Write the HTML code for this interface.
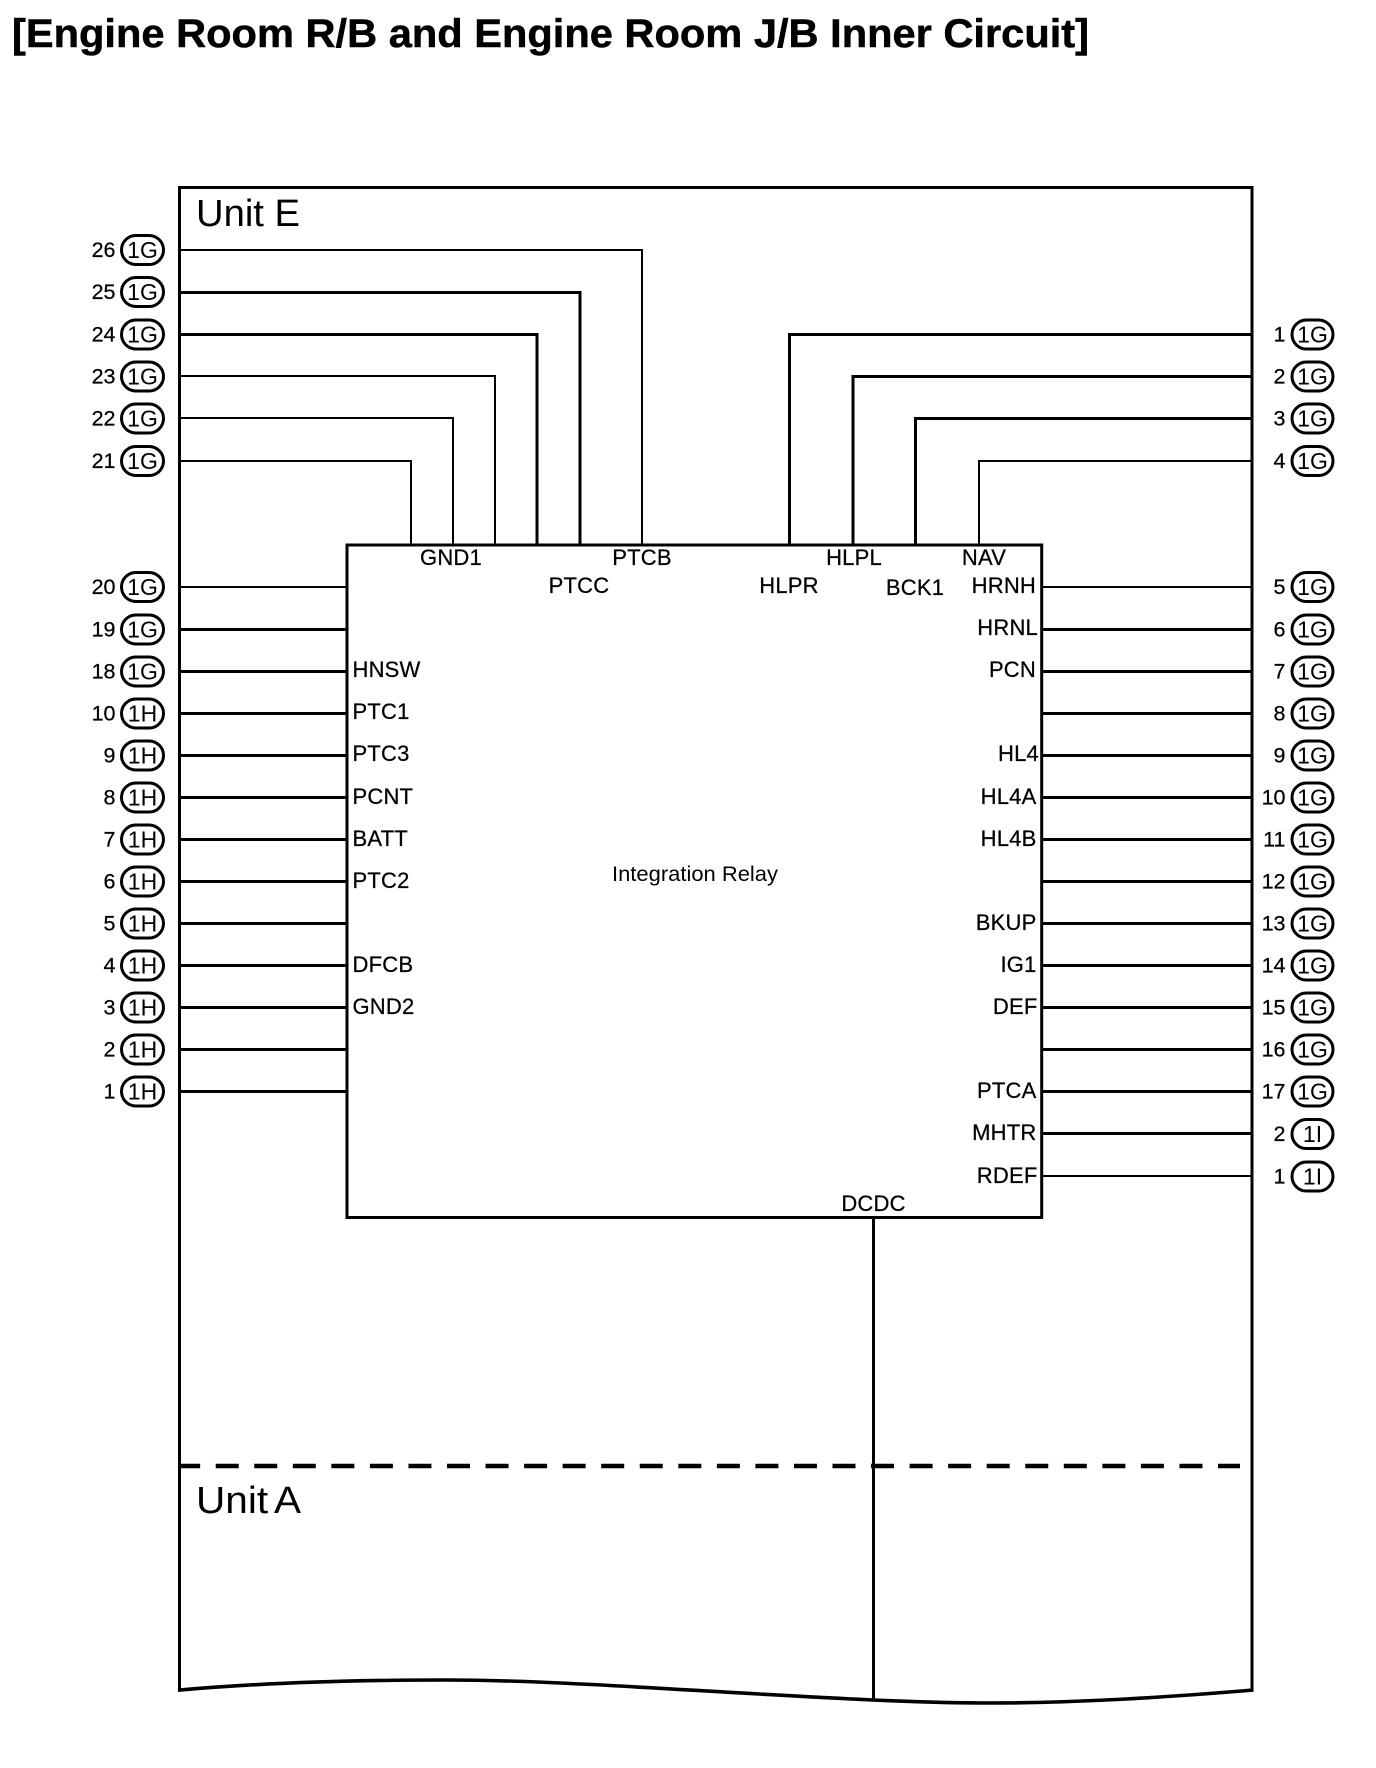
<!DOCTYPE html>
<html><head><meta charset="utf-8"><style>
html,body{margin:0;padding:0;background:#fff}
svg{display:block}
text{font-family:"Liberation Sans",Arial,sans-serif;fill:#000}
.l text,.n text{stroke:#000;stroke-width:.25}
.w{fill:none;stroke:#000;stroke-width:3}
.t{fill:none;stroke:#000;stroke-width:2}
.p{fill:#fff;stroke:#000;stroke-width:3}
</style></head><body>
<svg width="1376" height="1768" viewBox="0 0 1376 1768" xmlns="http://www.w3.org/2000/svg">
<rect width="1376" height="1768" fill="#fff"/>
<text x="12" y="47" font-size="40" font-weight="700" stroke="#000" stroke-width=".5" textLength="1077" lengthAdjust="spacingAndGlyphs">[Engine Room R/B and Engine Room J/B Inner Circuit]</text>

<path class="w" d="M179.5 1691V187.5H1252V1691"/>
<path d="M178 1690.2C270 1682 360 1680 447 1680C560 1680 700 1692 873 1700C930 1702.5 960 1703 987 1703C1080 1703 1170 1697 1253.5 1690" fill="none" stroke="#000" stroke-width="3.6"/>
<rect class="w" x="347" y="545" width="694.7" height="672.5"/>
<path d="M179 1466H1240" fill="none" stroke="#000" stroke-width="4.4" stroke-dasharray="23 15.55" stroke-dashoffset="1.85"/>
<path class="w" d="M873.5 1217V1701"/>

<g shape-rendering="crispEdges">
<path class="t" d="M180 250H642V545"/>
<path class="w" d="M180 292.5H580V545"/>
<path class="w" d="M180 334.5H537V545"/>
<path class="t" d="M180 376H495V545"/>
<path class="t" d="M180 418H453V545"/>
<path class="t" d="M180 461H411V545"/>
<path class="w" d="M1252 334.5H789.5V545"/>
<path class="w" d="M1252 376.5H853V545"/>
<path class="w" d="M1252 418.5H915.5V545"/>
<path class="t" d="M1252 461H979V545"/>
<path class="t" d="M180 587H347"/>
<path class="w" d="M180 629.5H347M180 671.5H347M180 713.5H347M180 755.5H347M180 797.5H347M180 839.5H347M180 881.5H347M180 923.5H347M180 965.5H347M180 1007.5H347M180 1049.5H347M180 1091.5H347"/>
<path class="t" d="M1042 587H1252"/>
<path class="w" d="M1042 629.5H1252M1042 671.5H1252M1042 713.5H1252M1042 755.5H1252M1042 797.5H1252M1042 839.5H1252M1042 881.5H1252M1042 923.5H1252M1042 965.5H1252M1042 1007.5H1252M1042 1049.5H1252M1042 1091.5H1252M1042 1133.5H1252"/>
<path class="t" d="M1042 1176H1252"/>
</g>

<text x="196" y="226" font-size="38" textLength="104" lengthAdjust="spacingAndGlyphs">Unit E</text>
<text x="196" y="1513" font-size="38" textLength="105" lengthAdjust="spacingAndGlyphs" word-spacing="-3">Unit A</text>
<text x="695" y="881" font-size="21" text-anchor="middle" textLength="166" lengthAdjust="spacingAndGlyphs">Integration Relay</text>

<g class="l" font-size="22" letter-spacing=".2">
<g text-anchor="middle">
<text x="451" y="565">GND1</text>
<text x="642" y="565">PTCB</text>
<text x="854" y="565">HLPL</text>
<text x="984" y="565">NAV</text>
<text x="579" y="593">PTCC</text>
<text x="789" y="593">HLPR</text>
<text x="915" y="595">BCK1</text>
<text x="873.5" y="1211">DCDC</text>
</g>
<g>
<text x="352.5" y="677">HNSW</text>
<text x="352.5" y="719">PTC1</text>
<text x="352.5" y="761">PTC3</text>
<text x="352.5" y="804">PCNT</text>
<text x="352.5" y="846">BATT</text>
<text x="352.5" y="888">PTC2</text>
<text x="352.5" y="972">DFCB</text>
<text x="352.5" y="1014">GND2</text>
</g>
<g text-anchor="end">
<text x="1036" y="593">HRNH</text>
<text x="1038" y="635">HRNL</text>
<text x="1036" y="677">PCN</text>
<text x="1039" y="761">HL4</text>
<text x="1036.5" y="804">HL4A</text>
<text x="1036.5" y="846">HL4B</text>
<text x="1036.5" y="930">BKUP</text>
<text x="1036.5" y="972">IG1</text>
<text x="1037.5" y="1014">DEF</text>
<text x="1036.5" y="1098">PTCA</text>
<text x="1036.5" y="1140">MHTR</text>
<text x="1037.5" y="1183">RDEF</text>
</g>
</g>

<g>
<rect class="p" x="121.5" y="235.5" width="42" height="29" rx="14.5"/>
<rect class="p" x="121.5" y="277.5" width="42" height="29" rx="14.5"/>
<rect class="p" x="121.5" y="320" width="42" height="29" rx="14.5"/>
<rect class="p" x="121.5" y="362" width="42" height="29" rx="14.5"/>
<rect class="p" x="121.5" y="404" width="42" height="29" rx="14.5"/>
<rect class="p" x="121.5" y="446.5" width="42" height="29" rx="14.5"/>
<rect class="p" x="121.5" y="572.5" width="42" height="29" rx="14.5"/>
<rect class="p" x="121.5" y="615" width="42" height="29" rx="14.5"/>
<rect class="p" x="121.5" y="657" width="42" height="29" rx="14.5"/>
<rect class="p" x="121.5" y="699" width="42" height="29" rx="14.5"/>
<rect class="p" x="121.5" y="741" width="42" height="29" rx="14.5"/>
<rect class="p" x="121.5" y="783" width="42" height="29" rx="14.5"/>
<rect class="p" x="121.5" y="825" width="42" height="29" rx="14.5"/>
<rect class="p" x="121.5" y="867" width="42" height="29" rx="14.5"/>
<rect class="p" x="121.5" y="909" width="42" height="29" rx="14.5"/>
<rect class="p" x="121.5" y="951" width="42" height="29" rx="14.5"/>
<rect class="p" x="121.5" y="993" width="42" height="29" rx="14.5"/>
<rect class="p" x="121.5" y="1035" width="42" height="29" rx="14.5"/>
<rect class="p" x="121.5" y="1077" width="42" height="29" rx="14.5"/>
<rect class="p" x="1292" y="320" width="41" height="29" rx="14.5"/>
<rect class="p" x="1292" y="362" width="41" height="29" rx="14.5"/>
<rect class="p" x="1292" y="404" width="41" height="29" rx="14.5"/>
<rect class="p" x="1292" y="446.5" width="41" height="29" rx="14.5"/>
<rect class="p" x="1292" y="572.5" width="41" height="29" rx="14.5"/>
<rect class="p" x="1292" y="615" width="41" height="29" rx="14.5"/>
<rect class="p" x="1292" y="657" width="41" height="29" rx="14.5"/>
<rect class="p" x="1292" y="699" width="41" height="29" rx="14.5"/>
<rect class="p" x="1292" y="741" width="41" height="29" rx="14.5"/>
<rect class="p" x="1292" y="783" width="41" height="29" rx="14.5"/>
<rect class="p" x="1292" y="825" width="41" height="29" rx="14.5"/>
<rect class="p" x="1292" y="867" width="41" height="29" rx="14.5"/>
<rect class="p" x="1292" y="909" width="41" height="29" rx="14.5"/>
<rect class="p" x="1292" y="951" width="41" height="29" rx="14.5"/>
<rect class="p" x="1292" y="993" width="41" height="29" rx="14.5"/>
<rect class="p" x="1292" y="1035" width="41" height="29" rx="14.5"/>
<rect class="p" x="1292" y="1077" width="41" height="29" rx="14.5"/>
<rect class="p" x="1292" y="1119.5" width="41" height="29" rx="14.5"/>
<rect class="p" x="1292" y="1162" width="41" height="29" rx="14.5"/>
</g>

<g class="n" font-size="21.5" text-anchor="end">
<text x="115.5" y="257">26</text><text x="115.5" y="299">25</text><text x="115.5" y="341.5">24</text><text x="115.5" y="383.5">23</text><text x="115.5" y="425.5">22</text><text x="115.5" y="468">21</text>
<text x="115.5" y="594">20</text><text x="115.5" y="636.5">19</text><text x="115.5" y="678.5">18</text><text x="115.5" y="720.5">10</text><text x="115.5" y="762.5">9</text><text x="115.5" y="804.5">8</text><text x="115.5" y="846.5">7</text><text x="115.5" y="888.5">6</text><text x="115.5" y="930.5">5</text><text x="115.5" y="972.5">4</text><text x="115.5" y="1014.5">3</text><text x="115.5" y="1056.5">2</text><text x="115.5" y="1098.5">1</text>
<text x="1285.5" y="341.5">1</text><text x="1285.5" y="383.5">2</text><text x="1285.5" y="425.5">3</text><text x="1285.5" y="468">4</text>
<text x="1285.5" y="594">5</text><text x="1285.5" y="636.5">6</text><text x="1285.5" y="678.5">7</text><text x="1285.5" y="720.5">8</text><text x="1285.5" y="762.5">9</text><text x="1285.5" y="804.5">10</text><text x="1285.5" y="846.5">11</text><text x="1285.5" y="888.5">12</text><text x="1285.5" y="930.5">13</text><text x="1285.5" y="972.5">14</text><text x="1285.5" y="1014.5">15</text><text x="1285.5" y="1056.5">16</text><text x="1285.5" y="1098.5">17</text><text x="1285.5" y="1141">2</text><text x="1285.5" y="1183.5">1</text>
</g>

<g font-size="23" text-anchor="middle">
<text x="142.5" y="258">1G</text><text x="142.5" y="300">1G</text><text x="142.5" y="342.5">1G</text><text x="142.5" y="384.5">1G</text><text x="142.5" y="426.5">1G</text><text x="142.5" y="469">1G</text>
<text x="142.5" y="595">1G</text><text x="142.5" y="637.5">1G</text><text x="142.5" y="679.5">1G</text><text x="142.5" y="721.5">1H</text><text x="142.5" y="763.5">1H</text><text x="142.5" y="805.5">1H</text><text x="142.5" y="847.5">1H</text><text x="142.5" y="889.5">1H</text><text x="142.5" y="931.5">1H</text><text x="142.5" y="973.5">1H</text><text x="142.5" y="1015.5">1H</text><text x="142.5" y="1057.5">1H</text><text x="142.5" y="1099.5">1H</text>
<text x="1312.5" y="342.5">1G</text><text x="1312.5" y="384.5">1G</text><text x="1312.5" y="426.5">1G</text><text x="1312.5" y="469">1G</text>
<text x="1312.5" y="595">1G</text><text x="1312.5" y="637.5">1G</text><text x="1312.5" y="679.5">1G</text><text x="1312.5" y="721.5">1G</text><text x="1312.5" y="763.5">1G</text><text x="1312.5" y="805.5">1G</text><text x="1312.5" y="847.5">1G</text><text x="1312.5" y="889.5">1G</text><text x="1312.5" y="931.5">1G</text><text x="1312.5" y="973.5">1G</text><text x="1312.5" y="1015.5">1G</text><text x="1312.5" y="1057.5">1G</text><text x="1312.5" y="1099.5">1G</text><text x="1312.5" y="1142">1I</text><text x="1312.5" y="1184.5">1I</text>
</g>
</svg>
</body></html>
